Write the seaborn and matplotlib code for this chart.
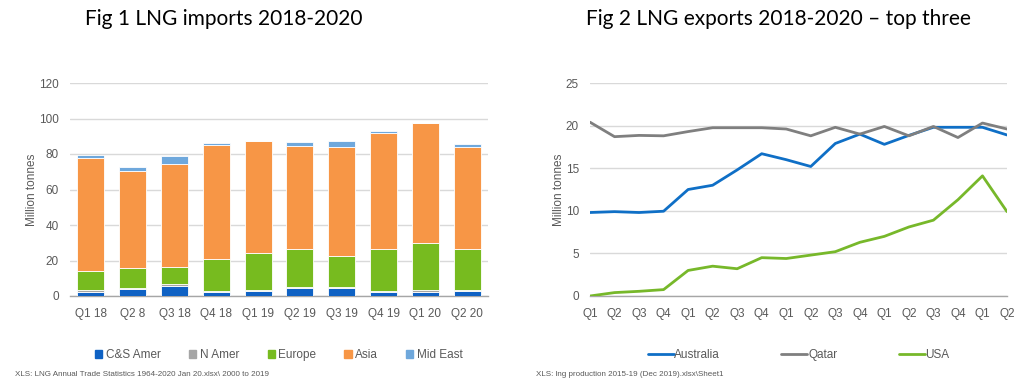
import numpy as np
import pandas as pd
import seaborn as sns
import matplotlib
import matplotlib.pyplot as plt
from matplotlib.patches import Patch
from matplotlib.lines import Line2D

matplotlib.use("Agg")

# Fig 1 data - LNG imports by region, million tonnes
quarters = ["Q1 18", "Q2 8", "Q3 18", "Q4 18", "Q1 19", "Q2 19", "Q3 19", "Q4 19", "Q1 20", "Q2 20"]
cs_amer = [2.3, 4.1, 5.8, 2.1, 3.0, 4.5, 4.3, 2.1, 2.1, 3.0]
n_amer = [0.9, 0.6, 0.8, 0.9, 0.5, 0.6, 1.0, 0.7, 1.3, 0.4]
europe = [10.9, 11.1, 9.6, 17.7, 21.0, 21.6, 17.3, 23.9, 26.3, 22.9]
asia = [63.8, 54.4, 58.1, 64.3, 62.8, 57.9, 61.3, 65.1, 67.7, 57.6]
mid_east = [1.5, 2.6, 4.3, 1.1, 0.0, 1.9, 3.4, 1.1, 0.0, 1.7]

# Fig 2 data - LNG exports, top three exporters
export_ticks = ["Q1", "Q2", "Q3", "Q4"] * 4 + ["Q1", "Q2"]
australia = [9.8, 9.9, 9.8, 9.95, 12.5, 13.0, 14.8, 16.7, 16.0, 15.2, 17.9, 19.0, 17.8, 18.85, 19.8, 19.8, 19.8, 18.9]
qatar = [20.4, 18.7, 18.85, 18.8, 19.3, 19.75, 19.75, 19.75, 19.6, 18.8, 19.8, 19.0, 19.9, 18.8, 19.9, 18.6, 20.3, 19.6]
usa = [0.0, 0.4, 0.55, 0.75, 3.0, 3.5, 3.2, 4.5, 4.4, 4.8, 5.2, 6.3, 7.0, 8.1, 8.9, 11.3, 14.1, 9.9]

sns.set_style("white")
plt.rcParams["font.family"] = ["Liberation Sans", "DejaVu Sans"]

txt = "#595959"
grid = "#d9d9d9"

fig = plt.figure(figsize=(10.26, 3.90), dpi=100)
ax1 = fig.add_axes([70 / 1026, 1 - 296 / 390, 418 / 1026, 213 / 390])
ax2 = fig.add_axes([590 / 1026, 1 - 296 / 390, 417 / 1026, 213 / 390])

# stacked bars
regions = [("C&S Amer", cs_amer, "#0f62c4"),
           ("N Amer", n_amer, "#a5a5a5"),
           ("Europe", europe, "#77bb1f"),
           ("Asia", asia, "#f79646"),
           ("Mid East", mid_east, "#6fa8dc")]
bottom = np.zeros(len(quarters))
for name, vals, col in regions:
    sns.barplot(x=quarters, y=vals, color=col, saturation=1, bottom=bottom, width=0.65,
                edgecolor="white", linewidth=0.6, ax=ax1, zorder=3)
    bottom = bottom + np.array(vals)

ax1.set_ylim(0, 120)
ax1.set_yticks(range(0, 121, 20))
ax1.set_ylabel("Million tonnes", color=txt, fontsize=8.5, labelpad=0.5)
ax1.set_xlabel("")
ax1.legend(handles=[Patch(color=c, label=n) for n, _, c in regions],
           loc="upper center", bbox_to_anchor=(0.5, -0.2), ncol=5, frameon=False,
           fontsize=8.5, handlelength=0.6, handleheight=0.6, handletextpad=0.3,
           columnspacing=2.4, labelcolor=txt)

# lines
df = pd.DataFrame({
    "q": list(range(len(export_ticks))) * 3,
    "val": australia + qatar + usa,
    "country": ["Australia"] * 18 + ["Qatar"] * 18 + ["USA"] * 18,
})
line_cols = {"Australia": "#0f6fc6", "Qatar": "#7f7f7f", "USA": "#77b82a"}
sns.lineplot(data=df, x="q", y="val", hue="country", palette=line_cols,
             linewidth=2.0, ax=ax2, legend=False, zorder=3)
ax2.set_xlim(0, 17)
ax2.set_xticks(range(18))
ax2.set_xticklabels(export_ticks)
ax2.set_ylim(0, 25)
ax2.set_yticks(range(0, 26, 5))
ax2.set_ylabel("Million tonnes", color=txt, fontsize=8.5, labelpad=0.5)
ax2.set_xlabel("")
ax2.legend(handles=[Line2D([], [], color=c, lw=2.0, label=n) for n, c in line_cols.items()],
           loc="upper center", bbox_to_anchor=(0.5, -0.2), ncol=3, frameon=False,
           fontsize=8.5, handlelength=2.2, handletextpad=0.05, columnspacing=5.2,
           labelcolor=txt)

for ax in (ax1, ax2):
    ax.grid(axis="y", color=grid, linewidth=1.0, zorder=0)
    ax.set_axisbelow(True)
    for s in ("top", "right", "left"):
        ax.spines[s].set_visible(False)
    ax.spines["bottom"].set_color("#a6a6a6")
    ax.spines["bottom"].set_linewidth(1.0)
    ax.tick_params(axis="both", length=0, labelsize=8.5, labelcolor=txt)
    ax.tick_params(axis="x", pad=9)
    ax.tick_params(axis="y", pad=8)

fig.text(224 / 1026, 1 - 19 / 390, "Fig 1 LNG imports 2018-2020", ha="center", va="center",
         fontsize=15, family=["Lato", "DejaVu Sans"], color="black")
fig.text(778 / 1026, 1 - 19 / 390, "Fig 2 LNG exports 2018-2020 \u2013 top three", ha="center",
         va="center", fontsize=15, family=["Lato", "DejaVu Sans"], color="black")
fig.text(15 / 1026, 1 - 375 / 390, "XLS: LNG Annual Trade Statistics 1964-2020 Jan 20.xlsx\\ 2000 to 2019",
         ha="left", va="center", fontsize=5.8, color=txt)
fig.text(536 / 1026, 1 - 375 / 390, "XLS: lng production 2015-19 (Dec 2019).xlsx\\Sheet1",
         ha="left", va="center", fontsize=5.8, color=txt)

fig.savefig("out.png", dpi=100)
